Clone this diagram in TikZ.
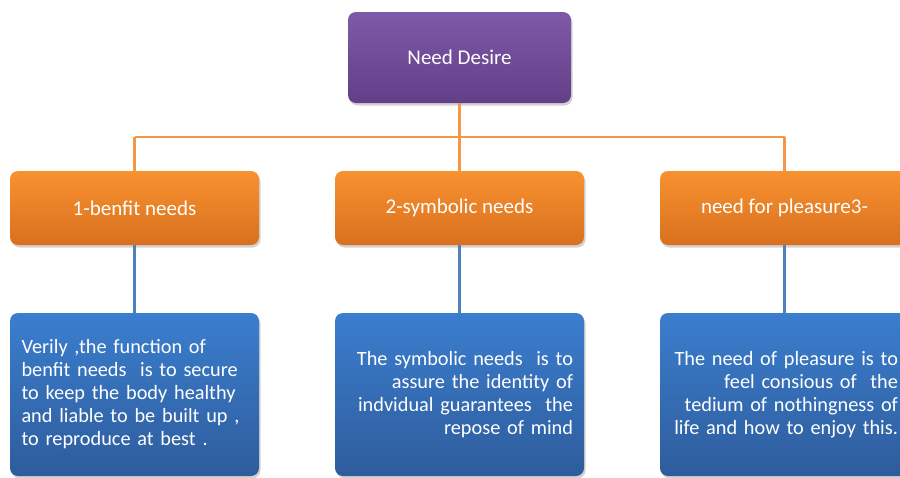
\documentclass[tikz,border=0pt]{standalone}
\usepackage{fontspec}
\setmainfont{Carlito}
\usetikzlibrary{shadows}
\definecolor{purpT}{HTML}{7E59A8}
\definecolor{purpB}{HTML}{633F88}
\definecolor{orT}{HTML}{F8922F}
\definecolor{orB}{HTML}{D8701F}
\definecolor{blT}{HTML}{3B7ECE}
\definecolor{blB}{HTML}{2E5C9C}
\definecolor{orLine}{HTML}{F79646}
\definecolor{blLine}{HTML}{4F81BD}
\tikzset{
  box/.style={rectangle, rounded corners=8pt, text=white, inner sep=0pt,
    font=\fontsize{21}{25}\selectfont,
    drop shadow={opacity=0.35, shadow xshift=1.5pt, shadow yshift=-2.5pt}},
  topbox/.style={box, top color=purpT, bottom color=purpB, minimum width=223pt, minimum height=91pt},
  catbox/.style={box, top color=orT, bottom color=orB, minimum width=249pt, minimum height=74pt},
  descbox/.style={box, top color=blT, bottom color=blB, minimum width=249pt, minimum height=163pt},
  desctext/.style={text=white, inner sep=0pt, text width=230pt, font=\fontsize{20.3}{23}\selectfont},
  orconn/.style={draw=orLine, line width=2.2pt},
  blconn/.style={draw=blLine, line width=2.2pt}
}
\begin{document}
\begin{tikzpicture}[x=1pt,y=-1pt]
\useasboundingbox (0,0) rectangle (900,477);
\clip (0,0) rectangle (900,477);
\fill[white] (0,0) rectangle (900,477);
\coordinate (j) at (459.5,137);
\coordinate (jl) at (134.5,137);
\coordinate (jr) at (784.5,137);
\node[topbox] (top) at (459.5,57.5) {Need Desire};
\node[catbox] (c1) at (134.5,208) {1-benfit needs};
\node[catbox] (c2) at (459.5,208) {2-symbolic needs};
\node[catbox] (c3) at (784.5,208) {need for pleasure3-};
\node[descbox] (d1) at (134.5,394.5) {};
\node[descbox] (d2) at (459.5,394.5) {};
\node[descbox] (d3) at (784.5,394.5) {};
\draw[orconn] (top.south) -- (j);
\draw[orconn] (jl) -- (jr);
\draw[orconn] (jl) -- (c1.north);
\draw[orconn] (j) -- (c2.north);
\draw[orconn] (jr) -- (c3.north);
\draw[blconn] (c1.south) -- (d1.north);
\draw[blconn] (c2.south) -- (d2.north);
\draw[blconn] (c3.south) -- (d3.north);
\node[desctext, align=left, xshift=2pt] (t1) at (d1.center) {Verily ,the function of\\benfit needs\ \ is to secure\\to keep the body healthy\\and liable to be built up ,\\to reproduce at best .};
\node[desctext, align=right, xshift=-1.5pt] (t2) at (d2.center) {The symbolic needs\ \ is to\\assure the identity of\\indvidual guarantees\ \ the\\repose of mind\ };
\node[desctext, align=right, xshift=-1.5pt] (t3) at (d3.center) {The need of pleasure is to\\feel consious of\ \ the\\tedium of nothingness of\\life and how to enjoy this.};
\end{tikzpicture}
\end{document}
